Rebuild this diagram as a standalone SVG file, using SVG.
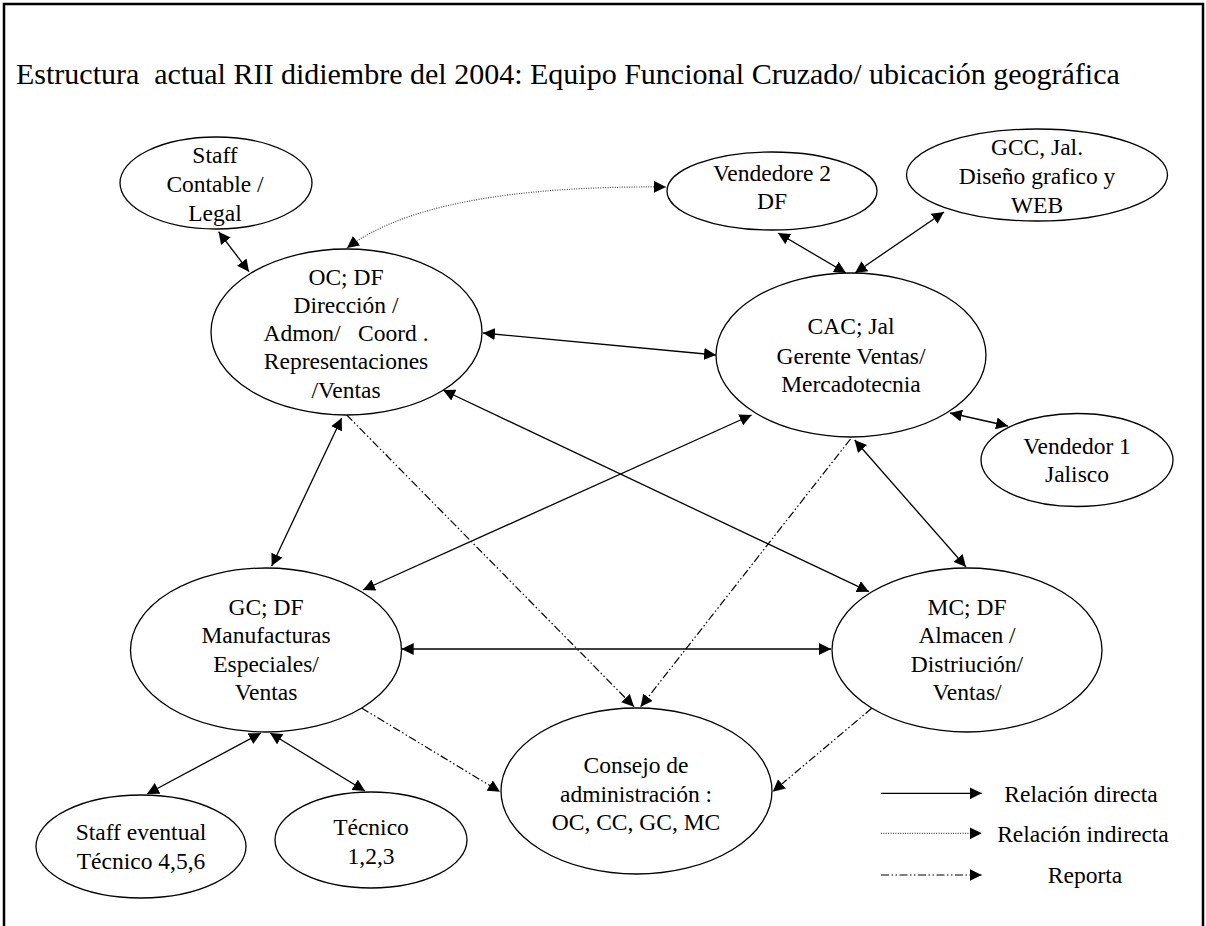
<svg xmlns="http://www.w3.org/2000/svg" width="1206" height="926" viewBox="0 0 1206 926">
<style>
text{font-family:"Liberation Serif","Times New Roman",serif;font-size:23.5px;fill:#000;text-anchor:middle;white-space:pre}
.title{font-size:30px;text-anchor:start}
.leg{text-anchor:middle}
ellipse{fill:#fff;stroke:#000;stroke-width:1.3}
.c{fill:none;stroke:#000;stroke-width:1.3}
.d2{marker-start:url(#ah);marker-end:url(#ah)}
.e1{marker-end:url(#ah)}
.dot{fill:none;stroke:#444;stroke-width:1.2;stroke-dasharray:1 1.4}
.dd{fill:none;stroke:#000;stroke-width:1.2;stroke-dasharray:8 2.5 1.5 2.5 1.5 2.5}
</style>
<defs>
<marker id="ah" viewBox="0 0 12 12" refX="12" refY="6" markerWidth="12" markerHeight="12" markerUnits="userSpaceOnUse" orient="auto-start-reverse">
<path d="M0,0 L12,6 L0,12 z" fill="#000"/>
</marker>
</defs>
<rect x="4" y="4" width="1199" height="950" fill="#fff" stroke="#000" stroke-width="2.5"/>
<text class="title" x="16" y="84">Estructura  actual RII didiembre del 2004: Equipo Funcional Cruzado/ ubicación geográfica</text>

<g id="connectors">
<line class="c d2" x1="218.6" y1="231.7" x2="249" y2="271.7"/>
<line class="c d2" x1="483" y1="333" x2="716" y2="355"/>
<line class="c d2" x1="778" y1="233" x2="846" y2="273"/>
<line class="c d2" x1="944" y1="212" x2="855" y2="273"/>
<line class="c d2" x1="950" y1="413" x2="1008" y2="426"/>
<line class="c d2" x1="341.7" y1="418" x2="271.7" y2="566"/>
<line class="c d2" x1="443" y1="390" x2="869" y2="591.7"/>
<line class="c d2" x1="363" y1="590" x2="751.6" y2="415"/>
<line class="c d2" x1="854.6" y1="440" x2="966" y2="567"/>
<line class="c d2" x1="401.7" y1="649" x2="831" y2="649"/>
<line class="c d2" x1="261" y1="733" x2="147" y2="794"/>
<line class="c d2" x1="270" y1="733" x2="365" y2="791"/>
<path class="dot d2" d="M347,248 Q430,185 666,187"/>
<line class="dd e1" x1="346.7" y1="415" x2="634" y2="706.7"/>
<line class="dd e1" x1="850.5" y1="439" x2="640.6" y2="706.7"/>
<line class="dd e1" x1="361.6" y1="708" x2="500" y2="791.7"/>
<line class="dd e1" x1="871.7" y1="708.3" x2="772.7" y2="791.7"/>
</g>

<g id="staff-contable">
<ellipse cx="216" cy="183" rx="96" ry="46"/>
<text><tspan x="215" y="163">Staff</tspan><tspan x="215" y="192">Contable /</tspan><tspan x="215" y="221">Legal</tspan></text>
</g>
<g id="oc">
<ellipse cx="346.5" cy="332" rx="135.5" ry="83"/>
<text><tspan x="346" y="285">OC; DF</tspan><tspan x="346" y="313">Dirección /</tspan><tspan x="346" y="341">Admon/   Coord .</tspan><tspan x="346" y="369">Representaciones</tspan><tspan x="346" y="398">/Ventas</tspan></text>
</g>
<g id="vendedore2">
<ellipse cx="772" cy="191" rx="105" ry="39"/>
<text><tspan x="772" y="181">Vendedore 2</tspan><tspan x="772" y="209">DF</tspan></text>
</g>
<g id="gcc">
<ellipse cx="1037" cy="175" rx="130.5" ry="46"/>
<text><tspan x="1037" y="155">GCC, Jal.</tspan><tspan x="1037" y="184">Diseño grafico y</tspan><tspan x="1037" y="213">WEB</tspan></text>
</g>
<g id="cac">
<ellipse cx="851" cy="355" rx="135" ry="82"/>
<text><tspan x="851" y="334">CAC; Jal</tspan><tspan x="851" y="364">Gerente Ventas/</tspan><tspan x="851" y="392">Mercadotecnia</tspan></text>
</g>
<g id="vendedor1">
<ellipse cx="1077" cy="460" rx="96" ry="46.5"/>
<text><tspan x="1077" y="454">Vendedor 1</tspan><tspan x="1077" y="482">Jalisco</tspan></text>
</g>
<g id="gc">
<ellipse cx="266" cy="650" rx="135.5" ry="82"/>
<text><tspan x="266" y="615">GC; DF</tspan><tspan x="266" y="643">Manufacturas</tspan><tspan x="266" y="672">Especiales/</tspan><tspan x="266" y="700">Ventas</tspan></text>
</g>
<g id="mc">
<ellipse cx="967" cy="650" rx="135" ry="82"/>
<text><tspan x="967" y="615">MC; DF</tspan><tspan x="967" y="643">Almacen /</tspan><tspan x="967" y="672">Distriución/</tspan><tspan x="967" y="700">Ventas/</tspan></text>
</g>
<g id="consejo">
<ellipse cx="636.5" cy="791" rx="135.5" ry="83"/>
<text><tspan x="636" y="773">Consejo de</tspan><tspan x="636" y="802">administración :</tspan><tspan x="636" y="830">OC, CC, GC, MC</tspan></text>
</g>
<g id="staff-eventual">
<ellipse cx="141" cy="846.5" rx="105" ry="51.5"/>
<text><tspan x="141" y="840">Staff eventual</tspan><tspan x="141" y="869">Técnico 4,5,6</tspan></text>
</g>
<g id="tecnico">
<ellipse cx="371" cy="840" rx="96" ry="48"/>
<text><tspan x="371" y="835">Técnico</tspan><tspan x="371" y="864">1,2,3</tspan></text>
</g>

<g id="legend">
<line class="c e1" x1="881" y1="793.3" x2="981.7" y2="793.3"/>
<line class="dot e1" x1="881" y1="833.3" x2="981.7" y2="833.3"/>
<line class="dd e1" x1="881" y1="875" x2="981.7" y2="875"/>
<text class="leg" x="1081" y="801.7">Relación directa</text>
<text class="leg" x="1083" y="841.7">Relación indirecta</text>
<text class="leg" x="1085" y="883.3">Reporta</text>
</g>
</svg>
